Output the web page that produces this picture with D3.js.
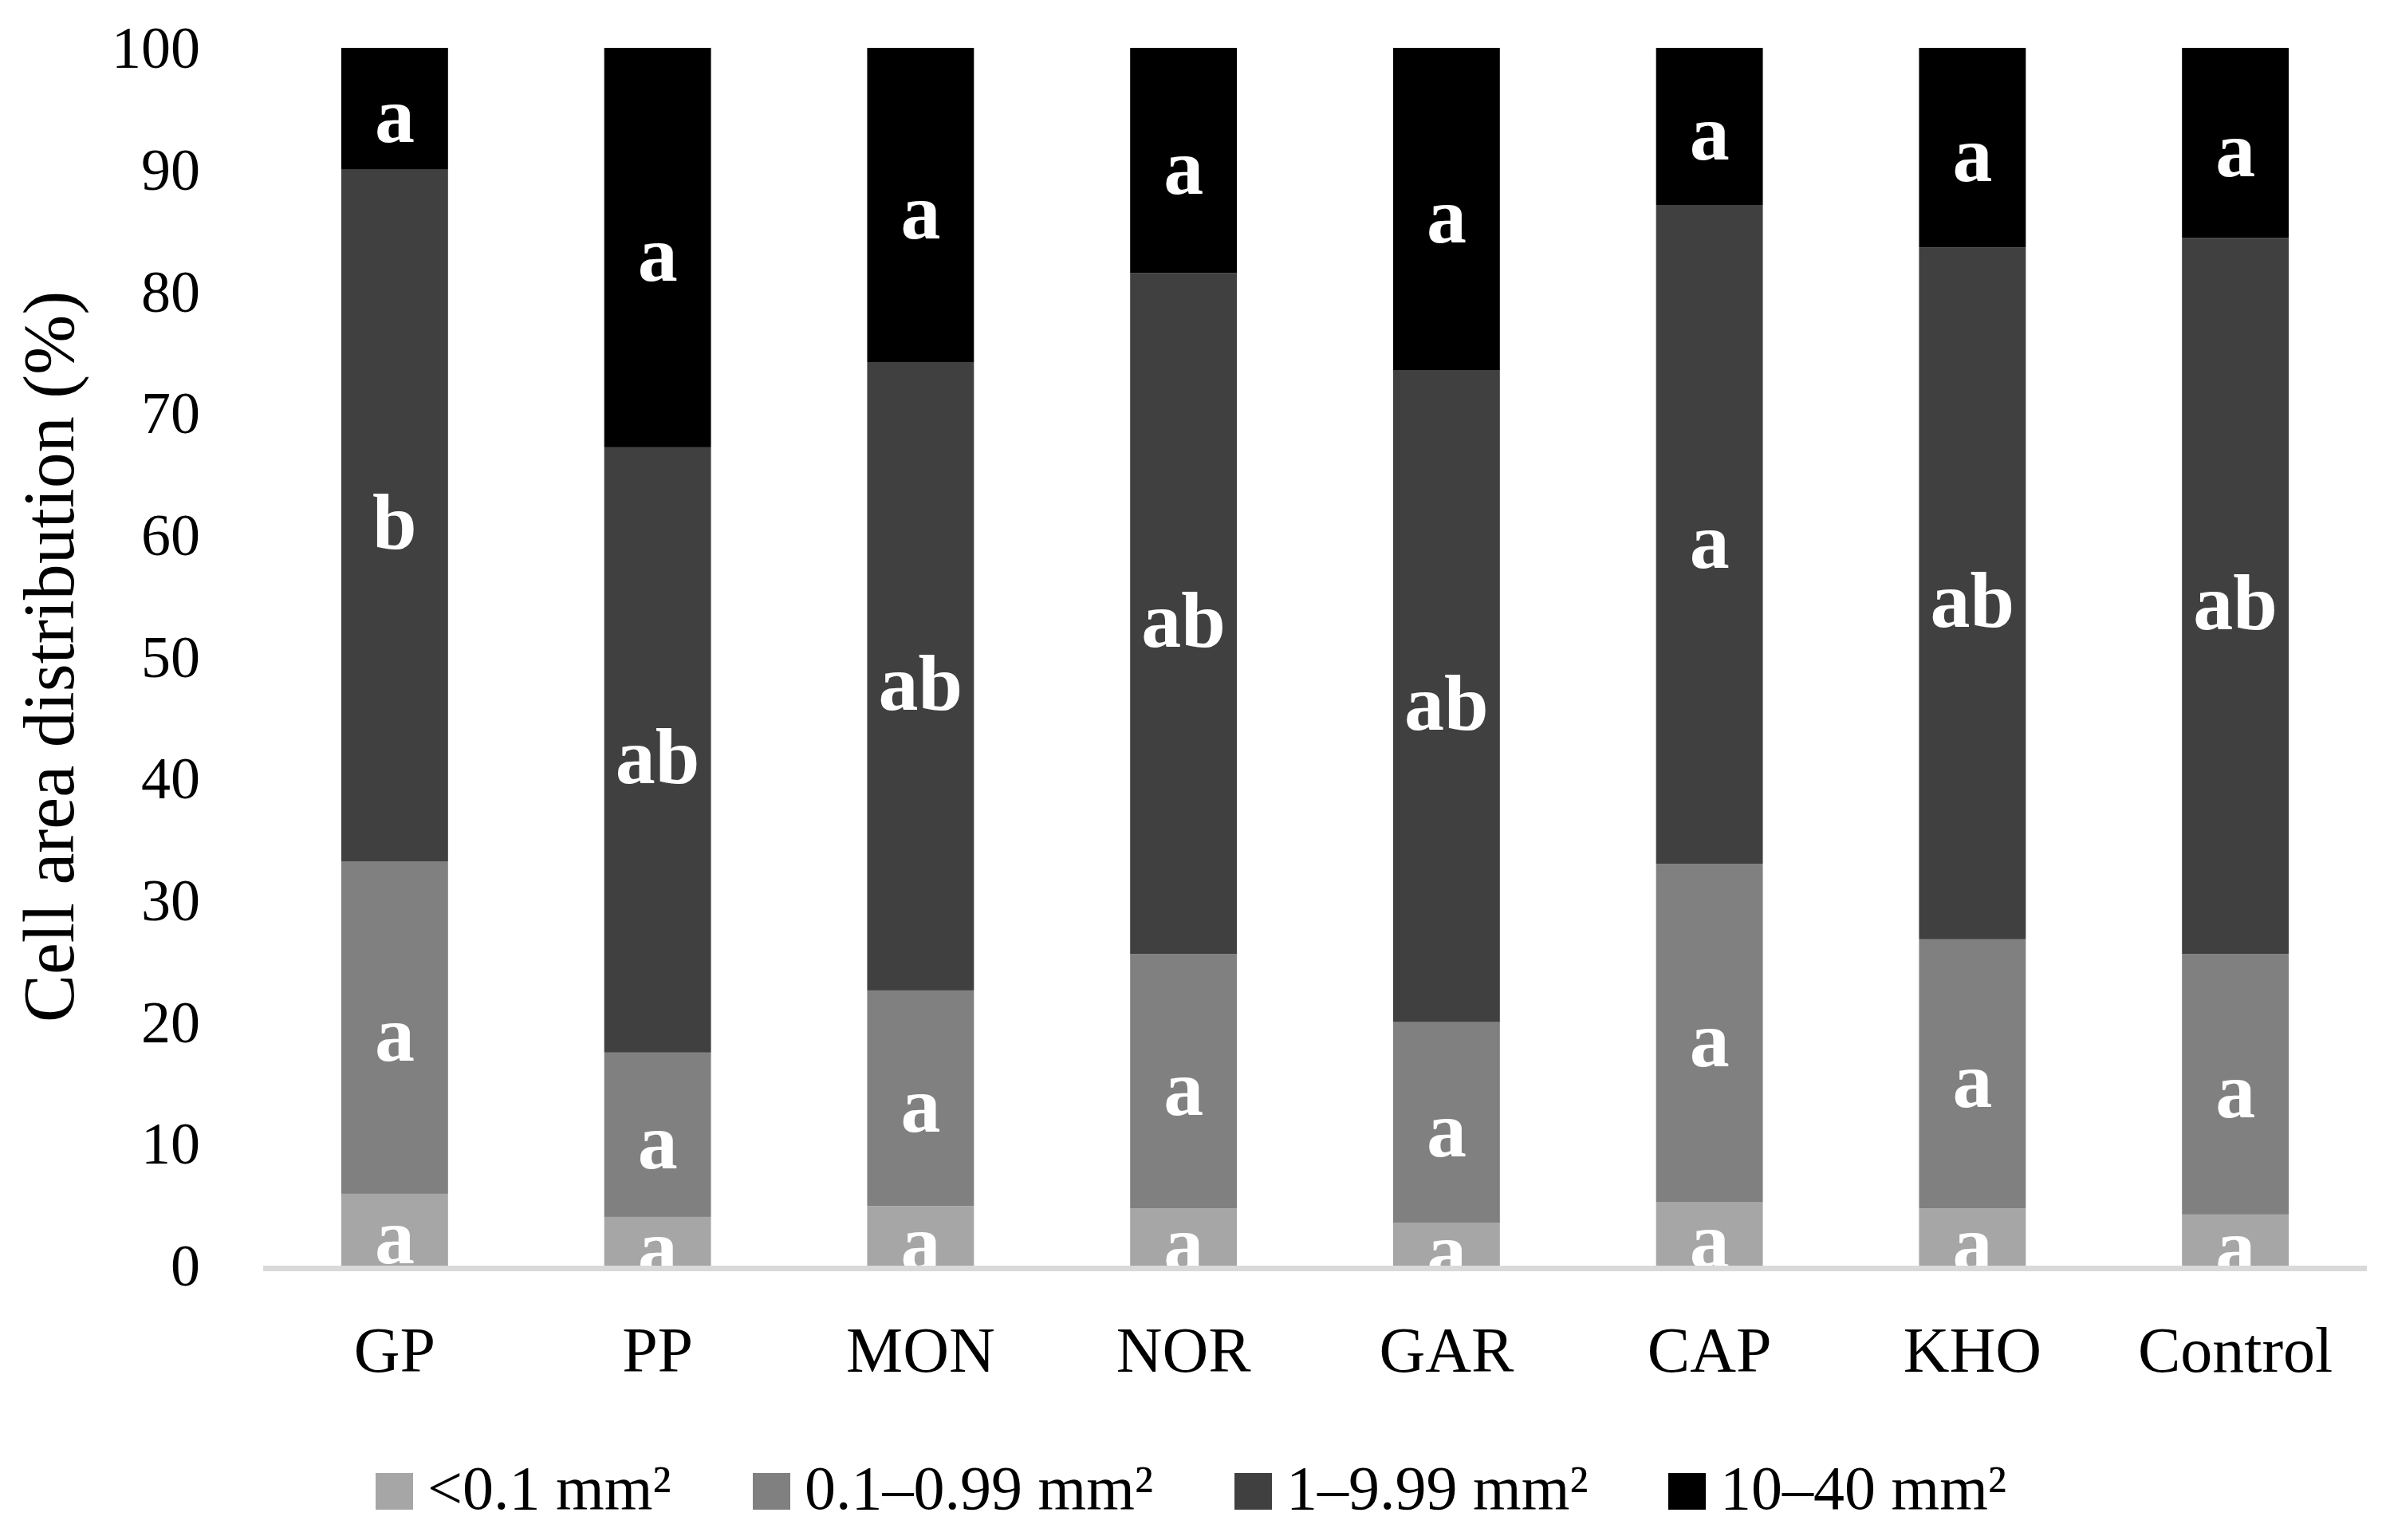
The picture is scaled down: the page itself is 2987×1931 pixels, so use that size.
<!DOCTYPE html>
<html>
<head>
<meta charset="utf-8">
<script src="https://cdn.jsdelivr.net/npm/d3@7"></script>
<style>
  body { margin: 0; background: #fff; }
  text { font-family: "Liberation Serif", "DejaVu Serif", serif; }
</style>
</head>
<body>
<svg id="chart" width="2987" height="1931"></svg>
<script>
const svg = d3.select('#chart');

// groups on the x axis
const groups = ['GP', 'PP', 'MON', 'NOR', 'GAR', 'CAP', 'KHO', 'Control'];

// size classes (bottom to top of each stack)
const classes = ['<0.1 mm²', '0.1–0.99 mm²', '1–9.99 mm²', '10–40 mm²'];
const colors = ['#a6a6a6', '#808080', '#404040', '#000000'];

// percentage of each class, per group
const small  = [5.9, 4.0, 4.9, 4.7, 3.5, 5.2, 4.7, 4.2];
const medium = [27.3, 13.5, 17.7, 20.9, 16.5, 27.8, 22.1, 21.4];
const large  = [56.8, 49.7, 51.6, 55.9, 53.5, 54.1, 56.8, 58.8];
const xlarge = [10.0, 32.8, 25.8, 18.5, 26.5, 12.9, 16.4, 15.6];

// significance letters, same order
const smallLetters  = ['a', 'a', 'a', 'a', 'a', 'a', 'a', 'a'];
const mediumLetters = ['a', 'a', 'a', 'a', 'a', 'a', 'a', 'a'];
const largeLetters  = ['b', 'ab', 'ab', 'ab', 'ab', 'a', 'ab', 'ab'];
const xlargeLetters = ['a', 'a', 'a', 'a', 'a', 'a', 'a', 'a'];

const yTicks = [0, 10, 20, 30, 40, 50, 60, 70, 80, 90, 100];

const series = [small, medium, large, xlarge];
const letters = [smallLetters, mediumLetters, largeLetters, xlargeLetters];

const rows = groups.map((g, i) => {
    let r = {group: g};
    classes.forEach((c, k) => r[c] = series[k][i]);
    return r;
});
const stacked = d3.stack().keys(classes)(rows);

const x = d3.scaleBand()
    .domain(groups)
    .range([330, 2968])
    .paddingInner(0.594)
    .paddingOuter(0.297);

const y = d3.scaleLinear()
    .domain([0, 100])
    .range([1587, 60]);

// bars
const layer = svg.selectAll('.layer')
    .data(stacked)
    .enter()
    .append('g')
    .attr('class', 'layer')
    .attr('fill', (d, k) => colors[k]);

layer.selectAll('rect')
    .data(d => d)
    .enter()
    .append('rect')
    .attr('x', d => x(d.data.group))
    .attr('y', d => y(d[1]))
    .attr('width', x.bandwidth())
    .attr('height', d => y(d[0]) - y(d[1]));

// letters in each segment
layer.selectAll('text')
    .data((d, k) => d.map((s, i) => ({s: s, txt: letters[k][i], g: groups[i]})))
    .enter()
    .append('text')
    .attr('x', d => x(d.g) + x.bandwidth() / 2)
    .attr('y', d => y((d.s[0] + d.s[1]) / 2))
    .attr('dy', '0.42em')
    .attr('text-anchor', 'middle')
    .attr('fill', '#fff')
    .attr('font-weight', 'bold')
    .attr('font-size', 100)
    .text(d => d.txt);

// x axis line
svg.append('line')
    .attr('x1', 330).attr('x2', 2968)
    .attr('y1', y(0) + 3.5).attr('y2', y(0) + 3.5)
    .attr('stroke', '#d9d9d9')
    .attr('stroke-width', 7);

// y tick labels
svg.selectAll('.ytick')
    .data(yTicks)
    .enter()
    .append('text')
    .attr('class', 'ytick')
    .attr('x', 251)
    .attr('y', d => y(d))
    .attr('dy', '0.34em')
    .attr('text-anchor', 'end')
    .attr('font-size', 74)
    .attr('fill', '#000')
    .text(d => d);

// x labels
svg.selectAll('.xlab')
    .data(groups)
    .enter()
    .append('text')
    .attr('class', 'xlab')
    .attr('x', d => x(d) + x.bandwidth() / 2)
    .attr('y', 1720)
    .attr('text-anchor', 'middle')
    .attr('font-size', 80)
    .attr('fill', '#000')
    .text(d => d);

// y axis title
svg.append('text')
    .attr('transform', 'translate(92,' + ((y(0) + y(100)) / 2) + ') rotate(-90)')
    .attr('text-anchor', 'middle')
    .attr('font-size', 90)
    .attr('fill', '#000')
    .text('Cell area distribution (%)');

// legend
const legendX = [471, 944, 1548, 2092];
const leg = svg.selectAll('.leg')
    .data(classes)
    .enter()
    .append('g')
    .attr('class', 'leg')
    .attr('transform', (d, k) => 'translate(' + legendX[k] + ',1847)');

leg.append('rect')
    .attr('width', 47)
    .attr('height', 46)
    .attr('fill', (d, k) => colors[k]);

leg.append('text')
    .attr('x', 65)
    .attr('y', 45)
    .attr('font-size', 78)
    .attr('fill', '#000')
    .text(d => d);
</script>
</body>
</html>
